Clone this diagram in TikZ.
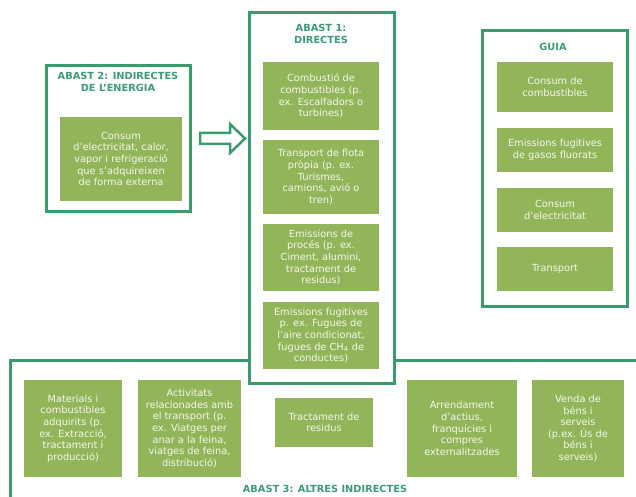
\documentclass[tikz,border=0pt]{standalone}
\usepackage{fontspec}
\setmainfont{DejaVu Sans}
\definecolor{framegreen}{HTML}{3A9B6C}
\definecolor{boxgreen}{HTML}{93B55A}
\definecolor{titlegreen}{HTML}{3C9C74}
\definecolor{boxtext}{HTML}{F4F7EC}
\def\colA{321}
\def\colG{555}
\def\rowB{428.5}
\tikzset{
  frame/.style={draw=framegreen, line width=3pt, fill=white},
  item/.style={fill=boxgreen, text=boxtext, align=center, inner sep=0pt,
    font=\fontsize{9.8}{11.6}\selectfont},
  heading/.style={text=titlegreen, align=center, inner sep=0pt,
    font=\bfseries\fontsize{9.8}{11.6}\selectfont},
}

\begin{document}
\begin{tikzpicture}[x=1pt, y=-1pt]
    \useasboundingbox (0,0) rectangle (636,497);
    \clip (0,0) rectangle (636,497);

    % frames
    \draw[frame] (10,360) rectangle (660,520);
    \draw[frame] (46,66) rectangle (190,211);
    \draw[frame] (249,13) rectangle (394,383);
    \draw[frame] (482,31) rectangle (627,306);
    \draw[frame, line width=2.5pt] (200,133) -- (230,133) -- (230,124) -- (245,138.5)
        -- (230,153) -- (230,144) -- (200,144) -- cycle;

    % abast 2
    \node[heading] (titleS2) at (118,82) {ABAST 2: INDIRECTES\\DE L’ENERGIA};
    \node[item, minimum width=122pt, minimum height=84pt] (energy) at (121,159)
        {Consum\\d’electricitat, calor,\\vapor i refrigeració\\que s’adquireixen\\de forma externa};

    % abast 1
    \node[heading] (titleS1) at (\colA,34) {ABAST 1:\\DIRECTES};
    \node[item, minimum width=116pt, minimum height=68pt] (fuel) at (\colA,96)
        {Combustió de\\combustibles (p.\\ex. Escalfadors o\\turbines)};
    \node[item, minimum width=116pt, minimum height=74pt] (fleet) at (\colA,177)
        {Transport de flota\\pròpia (p. ex.\\Turismes,\\camions, avió o\\tren)};
    \node[item, minimum width=116pt, minimum height=67pt] (process) at (\colA,257.5)
        {Emissions de\\procés (p. ex.\\Ciment, alumini,\\tractament de\\residus)};
    \node[item, minimum width=116pt, minimum height=67pt] (fugitive) at (\colA,335.5)
        {Emissions fugitives\\p. ex. Fugues de\\l’aire condicionat,\\fugues de CH\textsubscript{4} de\\conductes)};

    % guia
    \node[heading] (titleG) at (553,47) {GUIA};
    \node[item, minimum width=116pt, minimum height=50pt] (guiaFuel) at (\colG,87)
        {Consum de\\combustibles};
    \node[item, minimum width=116pt, minimum height=44pt] (guiaGas) at (\colG,150)
        {Emissions fugitives\\de gasos fluorats};
    \node[item, minimum width=116pt, minimum height=44pt] (guiaElec) at (\colG,210)
        {Consum\\d’electricitat};
    \node[item, minimum width=116pt, minimum height=44pt] (guiaTrans) at (\colG,269)
        {Transport};

    % abast 3
    \node[item, minimum width=98pt, minimum height=97pt] (materials) at (73,\rowB)
        {Materials i\\combustibles\\adquirits (p.\\ex. Extracció,\\tractament i\\producció)};
    \node[item, minimum width=103pt, minimum height=97pt] (travel) at (189.5,\rowB)
        {Activitats\\relacionades amb\\el transport (p.\\ex. Viatges per\\anar a la feina,\\viatges de feina,\\distribució)};
    \node[item, minimum width=98pt, minimum height=49pt] (waste) at (324,422.5)
        {Tractament de\\residus};
    \node[item, minimum width=110pt, minimum height=97pt] (leasing) at (462,\rowB)
        {Arrendament\\d’actius,\\franquícies i\\compres\\externalitzades};
    \node[item, minimum width=92pt, minimum height=97pt] (sales) at (578,\rowB)
        {Venda de\\béns i\\serveis\\(p.ex. Ús de\\béns i\\serveis)};
    \node[heading] (titleS3) at (325,489) {ABAST 3: ALTRES INDIRECTES};
\end{tikzpicture}
\end{document}
